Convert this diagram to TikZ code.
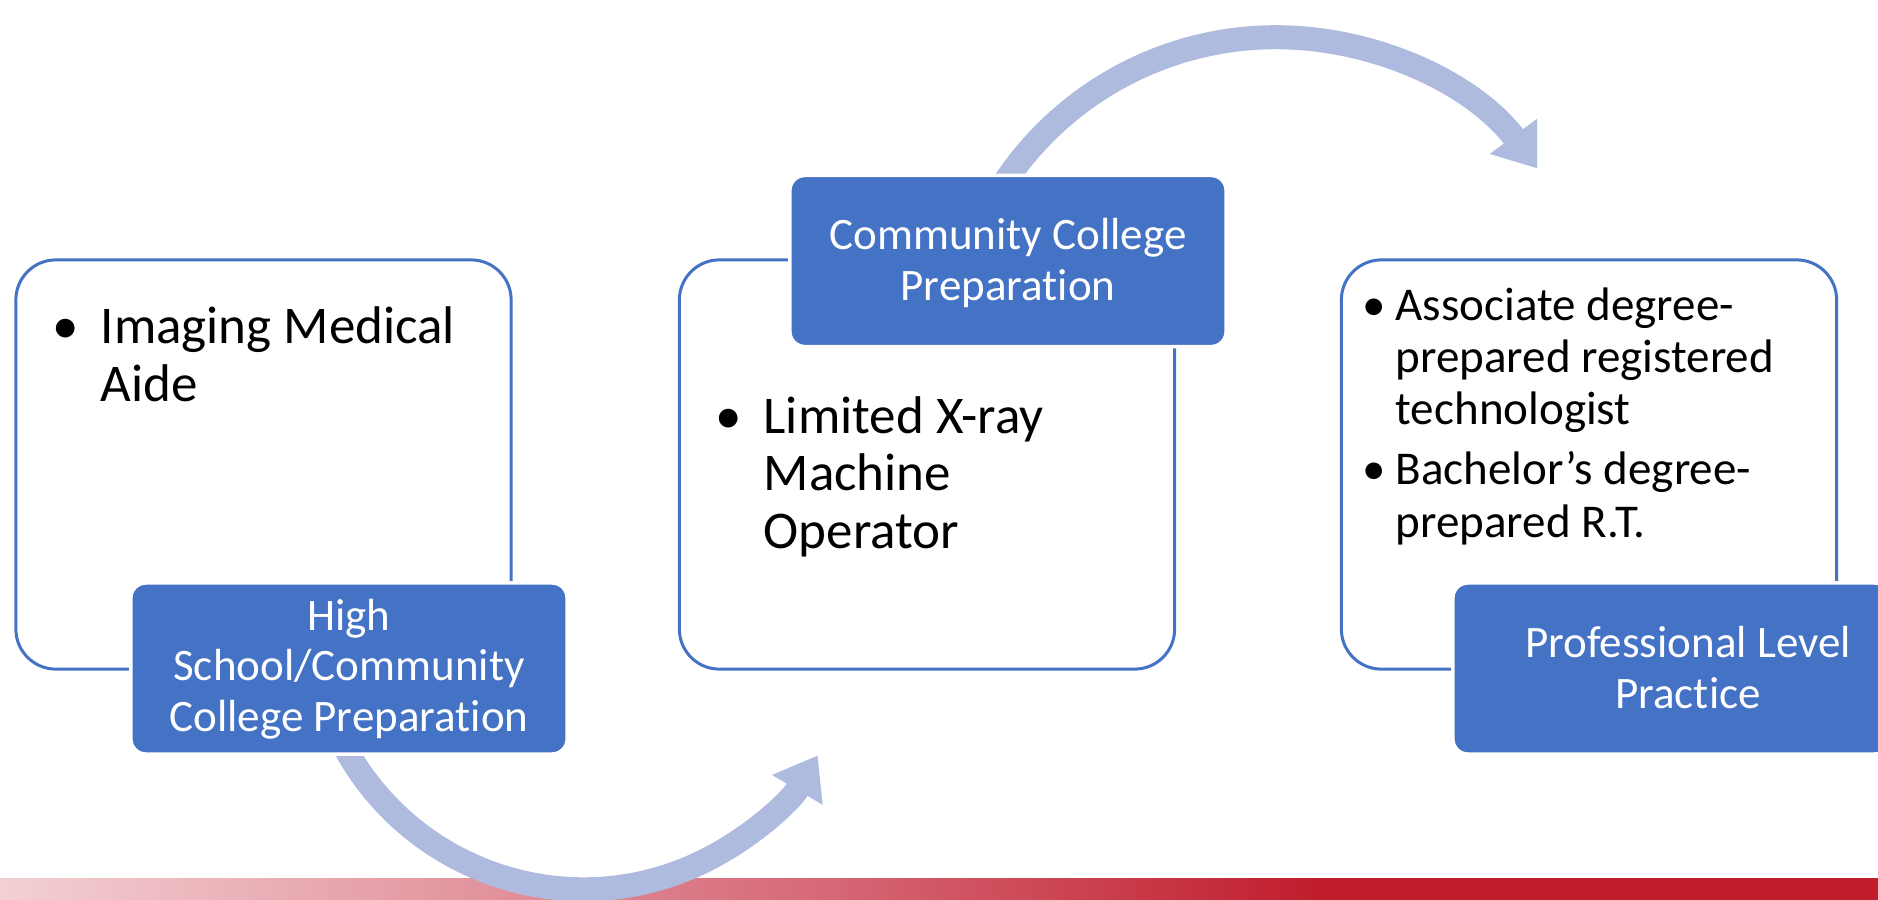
\documentclass[tikz,border=0pt]{standalone}
\usepackage{fontspec}
\setmainfont{Carlito}[Ligatures={NoCommon}]
\usetikzlibrary{arrows.meta}
\definecolor{accent}{RGB}{68,114,196}
\definecolor{arrowc}{RGB}{174,187,222}
\definecolor{stripred}{RGB}{192,30,45}
\definecolor{strippink}{RGB}{243,208,212}
\definecolor{stripmid}{RGB}{214,104,118}
\pgfdeclarehorizontalshading{stripshade}{100bp}{color(0bp)=(strippink); color(25bp)=(strippink); color(47bp)=(stripmid); color(60bp)=(stripred); color(100bp)=(stripred)}
\begin{document}
\begin{tikzpicture}[x=0.01cm, y=0.01cm,
  outlinebox/.style={draw=accent, line width=0.03cm, fill=white, rounded corners=0.4cm, minimum width=4.95cm, minimum height=4.09cm, inner sep=0pt},
  labelbox/.style={fill=accent, draw=white, line width=0.035cm, rounded corners=0.15cm, minimum width=4.36cm, minimum height=1.71cm, inner sep=0pt},
  bodytext/.style={font=\fontsize{0.53cm}{0.57cm}\selectfont, align=left, anchor=base west, inner sep=0pt},
  smalltext/.style={font=\fontsize{0.47cm}{0.52cm}\selectfont, align=left, anchor=base west, inner sep=0pt},
  labeltext/.style={font=\fontsize{0.45cm}{0.50cm}\selectfont, text=white, align=center, anchor=base, inner sep=0pt},
  flowarrow/.style={draw=arrowc, line width=0.24cm, -{Triangle[length=0.40cm, width=0.56cm]}}
]
\useasboundingbox (0,0) rectangle (1878,899);
% bottom strip
\shade[shading=stripshade] (0,0) rectangle (1878,21);
% outline boxes
\node[outlinebox] (b1) at (263.5,434.5) {};
\node[outlinebox] (b2) at (927,434.5) {};
\node[outlinebox] (b3) at (1589,434.5) {};
% arrows
\coordinate (c1) at (583.5,281.5);
\coordinate (c2) at (1275.8,535.6);
\draw[flowarrow] ([shift={(206:2.716cm)}]c1) arc[start angle=206, end angle=329.5, radius=2.716cm];
\draw[flowarrow] ([shift={(150:3.26cm)}]c2) arc[start angle=150, end angle=36.7, radius=3.26cm];
% label boxes
\node[labelbox] (h1) at (349,230.5) {};
\node[labelbox] (h2) at (1008,638) {};
\node[labelbox] (h3) at (1671,230.5) {};
% texts (base anchor = baseline of the last line)
\node[bodytext] (t1) at (100,498) {\llap{\makebox[0.7cm]{•}}Imaging Medical\\Aide};
\node[bodytext] (t2) at (763,351) {\llap{\makebox[0.7cm]{•}}Limited X-ray\\Machine\\Operator};
\node[smalltext] (t3) at (1395,362) {\llap{\makebox[0.42cm]{•}}Associate degree-\\prepared registered\\technologist\\[0.08cm]\llap{\makebox[0.42cm]{•}}Bachelor’s degree-\\prepared R.T.};
\node[labeltext] (l1) at (349,168) {High\\School/Community\\College Preparation};
\node[labeltext] (l2) at (1008,599) {Community College\\Preparation};
\node[labeltext] (l3) at (1688,191) {Professional Level\\Practice};
\end{tikzpicture}
\end{document}
